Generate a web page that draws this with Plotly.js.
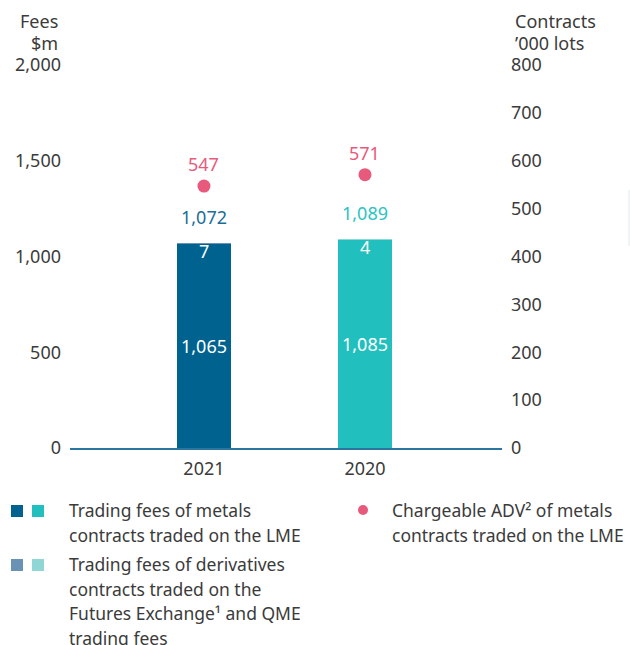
<!DOCTYPE html>
<html><head><meta charset="utf-8">
<script src="https://cdn.plot.ly/plotly-3.0.1.min.js"></script>
<style>html,body{margin:0;padding:0;background:#fff}#chart{width:630px;height:645px}</style>
</head><body><div id="chart"></div>
<script>
// ---- data ----
const years = ["2021", "2020"];
const metalsFees = [1065, 1085];
const derivFees = [7, 4];
const totalFees = [1072, 1089];
const adv = [547, 571];
const metalsColors = ["#00628f", "#21bfbd"];
const derivColors = ["#6a92b4", "#8fd6d4"];
const totalColors = ["#1b6e98", "#2cc3c2"];
const pink = "#e85a7c";
const FONT = "Noto Sans, Open Sans, sans-serif";
const TXT = "#3b3b3b";
const FS = 18;

const fmt = v => v.toLocaleString("en-US");

const L = 70, R = 502, T = 65, B = 448, W = 630, H = 645;
const px = x => (x - L) / (R - L);
const py = y => (B - y) / (B - T);

const traces = [
  {type: "bar", x: years, y: metalsFees, marker: {color: metalsColors},
   text: metalsFees.map(fmt), textposition: "inside", insidetextanchor: "middle",
   textfont: {color: "#ffffff", size: FS, family: FONT}, width: 0.34,
   hoverinfo: "none", showlegend: false},
  {type: "bar", x: years, y: derivFees, marker: {color: derivColors},
   width: 0.34, hoverinfo: "none", showlegend: false, textposition: "none"},
  {type: "scatter", mode: "markers", x: years, y: adv, yaxis: "y2",
   marker: {color: pink, size: 13}, hoverinfo: "none", showlegend: false, cliponaxis: false}
];

const annotations = [];
years.forEach((yr, i) => {
  annotations.push({x: i, y: totalFees[i], xref: "x", yref: "y", text: fmt(derivFees[i]),
    showarrow: false, yanchor: "top", yshift: 6, font: {color: "#ffffff", size: FS, family: FONT}});
  annotations.push({x: i, y: totalFees[i], xref: "x", yref: "y", text: fmt(totalFees[i]),
    showarrow: false, yanchor: "bottom", yshift: 12, font: {color: totalColors[i], size: FS, family: FONT}});
  annotations.push({x: i, y: adv[i], xref: "x", yref: "y2", text: fmt(adv[i]),
    showarrow: false, yanchor: "bottom", yshift: 8, font: {color: pink, size: FS, family: FONT}});
});
const line = (x, y, t, anchor, size) => annotations.push({xref: "paper", yref: "paper", x: px(x), y: py(y),
  xanchor: anchor, yanchor: "middle", text: t, showarrow: false,
  font: {color: TXT, size: size, family: FONT}});
// axis titles
line(60, 21, "Fees", "right", FS); line(60, 43, "$m", "right", FS);
line(513, 21, "Contracts", "left", FS); line(513, 43, "’000 lots", "left", FS);
// legend texts
const legendBlocks = [
  {x: 67, y: 510, lines: ["Trading fees of metals", "contracts traded on the LME"]},
  {x: 67, y: 564, lines: ["Trading fees of derivatives", "contracts traded on the", "Futures Exchange¹ and QME", "trading fees"]},
  {x: 390, y: 510, lines: ["Chargeable ADV² of metals", "contracts traded on the LME"]}
];
legendBlocks.forEach(b => b.lines.forEach((t, k) => line(b.x, b.y + k * 24.5, t, "left", 17.5)));

const shapes = [];
const sq = (x, y, c) => shapes.push({type: "rect", xref: "paper", yref: "paper",
  x0: px(x), x1: px(x + 12), y0: py(y + 12), y1: py(y), fillcolor: c, line: {width: 0}});
sq(11, 505, metalsColors[0]); sq(32, 505, metalsColors[1]);
sq(11, 559, derivColors[0]); sq(32, 559, derivColors[1]);
shapes.push({type: "circle", xref: "paper", yref: "paper", x0: px(358), x1: px(368), y0: py(515), y1: py(505),
  fillcolor: pink, line: {width: 0}});
shapes.push({type: "line", xref: "paper", yref: "paper", x0: px(629), x1: px(629), y0: py(190), y1: py(246),
  line: {color: "#e4e9ef", width: 1}});

const layout = {
  width: W, height: H,
  margin: {l: L, r: W - R, t: T, b: H - B, pad: 0},
  paper_bgcolor: "#ffffff", plot_bgcolor: "#ffffff",
  barmode: "stack", bargap: 0,
  font: {family: FONT, color: TXT, size: FS},
  xaxis: {type: "category", range: [-0.832, 1.851], showgrid: false, zeroline: false,
    showline: true, linecolor: "#2a76a0", linewidth: 1.5, ticks: "", fixedrange: true,
    tickfont: {size: FS, color: TXT, family: FONT}, ticklabelstandoff: 4},
  yaxis: {range: [0, 2000], tickvals: [0, 500, 1000, 1500, 2000], tickformat: ",d",
    showgrid: false, zeroline: false, showline: false, ticks: "", ticklabelstandoff: 8,
    tickfont: {size: FS, color: TXT, family: FONT}},
  yaxis2: {range: [0, 800], overlaying: "y", side: "right", dtick: 100, showgrid: false,
    zeroline: false, showline: false, ticks: "", ticklabelstandoff: 8,
    tickfont: {size: FS, color: TXT, family: FONT}},
  annotations: annotations, shapes: shapes
};

Plotly.newPlot("chart", traces, layout, {staticPlot: true, displayModeBar: false});
</script></body></html>
